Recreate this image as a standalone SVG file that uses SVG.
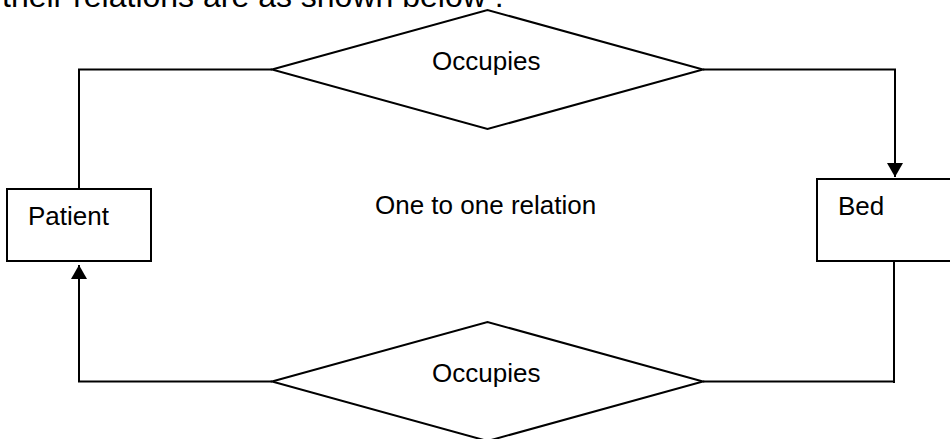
<svg xmlns="http://www.w3.org/2000/svg" width="950" height="439" viewBox="0 0 950 439">
  <style>
    .label { font-family: "Liberation Sans", Arial, sans-serif; font-size: 26px; fill: #000; }
    .intro { font-family: "Liberation Sans", Arial, sans-serif; font-size: 32px; fill: #000; }
    .shape { fill: #fff; stroke: #000; stroke-width: 2; }
    .line { fill: none; stroke: #000; stroke-width: 2; }
  </style>
  <defs>
    <marker id="arrow" viewBox="0 0 14 16" refX="14" refY="8" markerWidth="14" markerHeight="16" markerUnits="userSpaceOnUse" orient="auto">
      <path d="M0,0 L14,8 L0,16 Z" fill="#000"/>
    </marker>
  </defs>
  <rect width="950" height="439" fill="#fff"/>

  <text class="intro" x="2" y="7">their relations are as shown below :</text>

  <g id="connectors">
    <!-- upper relation: Patient -> Occupies -> Bed -->
    <path class="line" d="M79,189 V69.5 H272"/>
    <path class="line" d="M703,69.5 H895 V177" marker-end="url(#arrow)"/>
    <!-- lower relation: Bed -> Occupies -> Patient -->
    <path class="line" d="M894,261 V383"/>
    <path class="line" d="M703,381.5 H893"/>
    <path class="line" d="M272,381.5 H79 V265" marker-end="url(#arrow)"/>
  </g>

  <g id="patient">
    <rect class="shape" x="7" y="189" width="144" height="72"/>
    <text class="label" x="28" y="225">Patient</text>
  </g>

  <g id="bed">
    <rect class="shape" x="817" y="179" width="144" height="82"/>
    <text class="label" x="838" y="215">Bed</text>
  </g>

  <g id="occupies-top">
    <polygon class="shape" points="272,69.5 487.5,10 703,69.5 487.5,129"/>
    <text class="label" x="432" y="70">Occupies</text>
  </g>

  <g id="occupies-bottom">
    <polygon class="shape" points="272,381.5 487.5,322 703,381.5 487.5,441"/>
    <text class="label" x="432" y="382">Occupies</text>
  </g>

  <g id="caption">
    <text class="label" x="375" y="214">One to one relation</text>
  </g>
</svg>
